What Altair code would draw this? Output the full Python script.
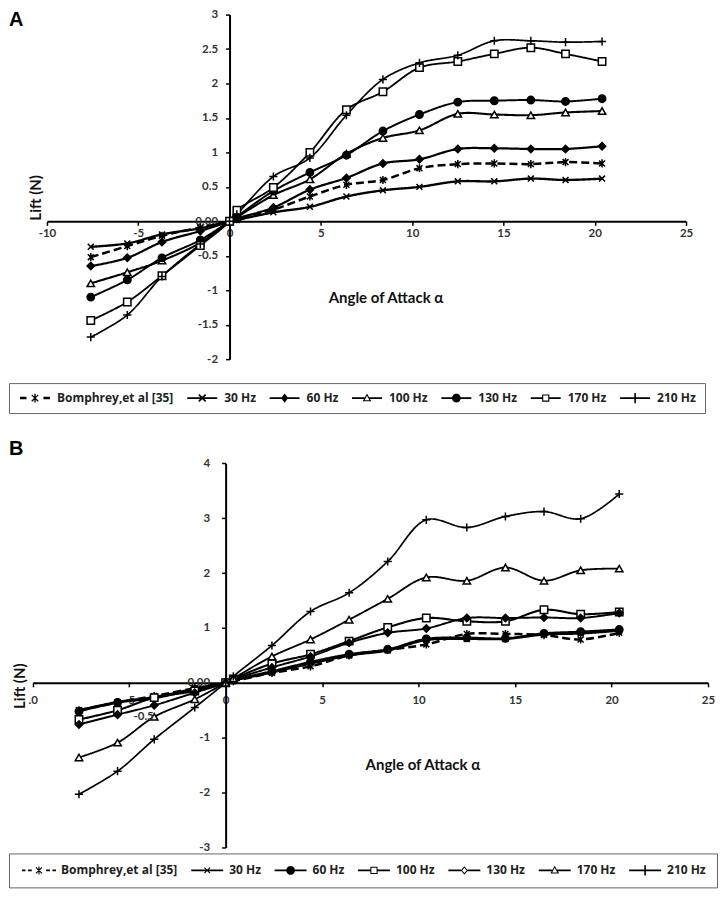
import math
import altair as alt
import pandas as pd

# ---------------- data ----------------
angles = [-7.6, -5.6, -3.7, -1.6, 0, 0.4, 2.4, 4.4, 6.4, 8.4, 10.4, 12.5, 14.5, 16.5, 18.4, 20.4]
series = ["Bomphrey,et al [35]", "30 Hz", "60 Hz", "100 Hz", "130 Hz", "170 Hz", "210 Hz"]

a_bomphrey = [-0.52, -0.36, -0.21, -0.09, 0, 0.03, 0.17, 0.36, 0.53, 0.60, 0.77, 0.83, 0.84, 0.83, 0.86, 0.84]
a_30 = [-0.37, -0.32, -0.19, -0.10, 0, 0.02, 0.13, 0.21, 0.36, 0.45, 0.50, 0.58, 0.58, 0.62, 0.60, 0.62]
a_60 = [-0.65, -0.53, -0.30, -0.14, 0, 0.04, 0.20, 0.46, 0.63, 0.84, 0.90, 1.05, 1.06, 1.05, 1.05, 1.09]
a_100 = [-0.90, -0.74, -0.57, -0.31, 0, 0.06, 0.38, 0.61, 0.98, 1.21, 1.32, 1.56, 1.55, 1.54, 1.58, 1.60]
a_130 = [-1.10, -0.85, -0.53, -0.27, 0, 0.07, 0.44, 0.71, 0.96, 1.31, 1.55, 1.73, 1.75, 1.76, 1.74, 1.78]
a_170 = [-1.44, -1.17, -0.79, -0.35, 0, 0.16, 0.49, 1.00, 1.62, 1.88, 2.23, 2.32, 2.43, 2.52, 2.43, 2.32]
a_210 = [-1.68, -1.36, -0.80, -0.33, 0, 0.10, 0.65, 0.92, 1.54, 2.06, 2.30, 2.41, 2.62, 2.62, 2.60, 2.61]

b_bomphrey = [-0.50, -0.36, -0.24, -0.10, 0, 0.03, 0.18, 0.30, 0.50, 0.60, 0.70, 0.89, 0.89, 0.87, 0.79, 0.91]
b_30 = [-0.50, -0.35, -0.26, -0.11, 0, 0.04, 0.19, 0.35, 0.50, 0.59, 0.78, 0.80, 0.80, 0.88, 0.90, 0.95]
b_60 = [-0.52, -0.36, -0.28, -0.12, 0, 0.05, 0.21, 0.38, 0.52, 0.61, 0.80, 0.82, 0.81, 0.90, 0.93, 0.97]
b_100 = [-0.67, -0.50, -0.27, -0.15, 0, 0.07, 0.35, 0.52, 0.76, 1.01, 1.18, 1.12, 1.12, 1.33, 1.25, 1.29]
b_130 = [-0.76, -0.58, -0.41, -0.18, 0, 0.06, 0.28, 0.48, 0.73, 0.91, 0.99, 1.18, 1.18, 1.19, 1.18, 1.27]
b_170 = [-1.36, -1.09, -0.62, -0.30, 0, 0.08, 0.48, 0.79, 1.15, 1.53, 1.92, 1.86, 2.10, 1.86, 2.05, 2.08]
b_210 = [-2.03, -1.61, -1.03, -0.45, 0, 0.12, 0.68, 1.30, 1.64, 2.21, 2.97, 2.83, 3.03, 3.12, 2.99, 3.44]

x_ticks = [-10, -5, 0, 5, 10, 15, 20, 25]
a_y_ticks = [-2, -1.5, -1, -0.5, 0, 0.5, 1, 1.5, 2, 2.5, 3]
b_y_ticks = [-3, -2, -1, 0, 1, 2, 3, 4]
b_stray_label = ["-0.5"]
b_stray_pos = [(-4.25, -0.63)]


def to_long(values):
    rows = []
    for name, vals in zip(series, values):
        for x, y in zip(angles, vals):
            rows.append({"series": name, "angle": x, "lift": y})
    return pd.DataFrame(rows)


df_a = to_long([a_bomphrey, a_30, a_60, a_100, a_130, a_170, a_210])
df_b = to_long([b_bomphrey, b_30, b_60, b_100, b_130, b_170, b_210])

# ---------------- plot markers ----------------
X_PATH = "M-0.8,-0.8L0.8,0.8M-0.8,0.8L0.8,-0.8"
PLUS_PATH = "M-1.1,0L1.1,0M0,-1.1L0,1.1"
AST_PATH = "M-0.8,-0.8L0.8,0.8M-0.8,0.8L0.8,-0.8M0,-1.1L0,1.1"

# ---------------- legend glyphs (filled outlines only) ----------------
LEG_SIZE = 64                      # symbol area -> 8 px nominal
UNIT = math.sqrt(LEG_SIZE) / 2     # px per path unit


def _area(p):
    return sum(p[i][0] * p[(i + 1) % len(p)][1] - p[(i + 1) % len(p)][0] * p[i][1]
               for i in range(len(p))) / 2


def _orient(p, positive):
    return p if (_area(p) > 0) == positive else p[::-1]


class Glyph:
    def __init__(self, shift):
        self.shift = shift
        self.parts = []

    def _add(self, pts, positive=True):
        pts = _orient(pts, positive)
        self.parts.append("M" + "L".join(
            f"{(x + self.shift) / UNIT:.3f},{y / UNIT:.3f}" for x, y in pts) + "Z")
        return self

    def rect(self, x1, x2, h):
        return self._add([(x1, -h), (x2, -h), (x2, h), (x1, h)])

    def seg(self, x1, y1, x2, y2, w):
        dx, dy = x2 - x1, y2 - y1
        n = math.hypot(dx, dy)
        nx, ny = -dy / n * w / 2, dx / n * w / 2
        return self._add([(x1 + nx, y1 + ny), (x2 + nx, y2 + ny),
                          (x2 - nx, y2 - ny), (x1 - nx, y1 - ny)])

    def cross(self, r, w):
        return self.seg(-r, -r, r, r, w).seg(-r, r, r, -r, w)

    def poly(self, pts):
        return self._add(pts)

    def ring(self, pts, w):
        a = abs(_area(pts))
        per = sum(math.dist(pts[i], pts[(i + 1) % len(pts)]) for i in range(len(pts)))
        inr = 2 * a / per
        cx = sum(p[0] for p in pts) / len(pts)
        cy = sum(p[1] for p in pts) / len(pts)
        k = 1 - w / inr
        inner = [(cx + (x - cx) * k, cy + (y - cy) * k) for x, y in pts]
        self._add(pts, True)
        return self._add(inner, False)

    def disc(self, r, n=24):
        return self._add([(r * math.cos(2 * math.pi * i / n), r * math.sin(2 * math.pi * i / n))
                          for i in range(n)])

    def path(self):
        return "".join(self.parts)


TRI = [(0, -4.6), (4.3, 3.2), (-4.3, 3.2)]
SQ = [(-3.6, -3.6), (3.6, -3.6), (3.6, 3.6), (-3.6, 3.6)]
DIA_A = [(0, -4.6), (3.6, 0), (0, 4.6), (-3.6, 0)]
DIA_B = [(0, -4.2), (3.6, 0), (0, 4.2), (-3.6, 0)]
LW = 0.85

SA = 11  # glyph spans -15..15 px around marker
legend_a_paths = [
    Glyph(SA).rect(-15, -8.5, 1.3).rect(8.5, 15, 1.3).cross(3.2, 1.3).seg(0, -4.4, 0, 4.4, 1.3).path(),
    Glyph(SA).rect(-15, 15, LW).cross(3.4, 1.7).path(),
    Glyph(SA).rect(-15, 15, LW).poly(DIA_A).path(),
    Glyph(SA).rect(-15, -2.3, LW).rect(2.3, 15, LW).ring(TRI, 1.1).path(),
    Glyph(SA).rect(-15, 15, LW).disc(4.4).path(),
    Glyph(SA).rect(-15, -3.4, LW).rect(3.4, 15, LW).ring(SQ, 1.1).path(),
    Glyph(SA).rect(-15, 15, LW).seg(0, -5.2, 0, 5.2, 1.6).path(),
]
SB = 13  # glyph spans -17..17 px around marker
legend_b_paths = [
    Glyph(SB).rect(-17, -13.5, LW).rect(-11, -7.2, LW).cross(3.0, 1.1).seg(0, -4, 0, 4, 1.1)
    .rect(7.2, 11, LW).rect(13.5, 17, LW).path(),
    Glyph(SB).rect(-16, 16, LW).cross(2.8, 1.1).path(),
    Glyph(SB).rect(-16, 16, LW).disc(4.4).path(),
    Glyph(SB).rect(-16, -3.4, LW).rect(3.4, 16, LW).ring(SQ, 1.0).path(),
    Glyph(SB).rect(-16, -3.3, LW).rect(3.3, 16, LW).ring(DIA_B, 1.0).path(),
    Glyph(SB).rect(-16, -2.3, LW).rect(2.3, 16, LW).ring(TRI, 1.0).path(),
    Glyph(SB).rect(-16, 16, LW).seg(0, -5.2, 0, 5.2, 1.6).path(),
]

LABEL_FONT = "Lato"
LEGEND_FONT = "Open Sans"


def panel(df, shapes, fills, dash, widths, legend_paths, W, H, xrange, yrange, ydom,
          yticks, x_label_pad, y_label_pad, xtitle_xy, ytitle_xy, legend_xy,
          legend_pad, col_pad, label_offset, letter, letter_xy, x_label_expr,
          extra=None):
    """All positions are pixels inside the panel group (origin = its top-left)."""
    xmin, xmax = -10, 25
    x0 = xrange[0] + (xrange[1] - xrange[0]) * (0 - xmin) / (xmax - xmin)
    y0 = yrange[1] + (yrange[0] - yrange[1]) * (ydom[1] - 0) / (ydom[1] - ydom[0])
    xscale = alt.Scale(domain=[xmin, xmax], range=list(xrange), nice=False, zero=False)
    yscale = alt.Scale(domain=ydom, range=list(yrange), nice=False, zero=False)

    common_axis = dict(grid=False, domainColor="black", domainWidth=2,
                       tickColor="black", tickWidth=1.5, tickSize=4,
                       labelFont=LABEL_FONT, labelFontWeight="bold",
                       labelFontSize=11.5, labelColor="#333",
                       titleFont=LABEL_FONT, titleFontWeight="bold",
                       titleFontSize=15, titleColor="#111",
                       labelOverlap=False, labelFlush=False, labelBound=False)

    xaxis = alt.Axis(values=x_ticks, orient="bottom", offset=y0 - H,
                     labelPadding=x_label_pad, title="Angle of Attack α",
                     titleX=xtitle_xy[0], titleY=xtitle_xy[1] - y0,
                     titleAlign="center", titleBaseline="top", titleAngle=0,
                     labelExpr=x_label_expr, **common_axis)
    yaxis = alt.Axis(values=yticks, orient="left", offset=-x0,
                     labelPadding=y_label_pad, title="Lift (N)",
                     titleX=ytitle_xy[0] - x0, titleY=ytitle_xy[1],
                     titleAngle=-90, titleAlign="center", titleBaseline="middle",
                     labelExpr="datum.value == 0 ? '0.00' : '' + datum.value",
                     **common_axis)

    x_enc = alt.X("angle:Q", scale=xscale, axis=xaxis)
    y_enc = alt.Y("lift:Q", scale=yscale, axis=yaxis)

    base = alt.Chart(df)
    lines = base.mark_line(color="black", interpolate="catmull-rom").encode(
        x=x_enc, y=y_enc,
        detail="series:N",
        strokeDash=alt.StrokeDash("series:N",
                                  scale=alt.Scale(domain=series, range=dash),
                                  legend=None),
        strokeWidth=alt.StrokeWidth("series:N",
                                    scale=alt.Scale(domain=series, range=widths),
                                    legend=None),
    )
    points = base.mark_point(filled=True, stroke="black", strokeWidth=1.5,
                             size=55, opacity=1).encode(
        x=x_enc, y=y_enc,
        shape=alt.Shape("series:N", scale=alt.Scale(domain=series, range=shapes),
                        legend=None),
        fill=alt.Fill("series:N", scale=alt.Scale(domain=series, range=fills),
                      legend=None),
    )
    leg = base.transform_filter("false").mark_point(
        filled=True, fill="black", strokeWidth=0).encode(
        shape=alt.Shape("series:N",
                        scale=alt.Scale(domain=series, range=legend_paths),
                        legend=alt.Legend(
                            orient="none", legendX=legend_xy[0], legendY=legend_xy[1],
                            direction="horizontal", title=None,
                            symbolSize=LEG_SIZE, symbolStrokeWidth=0,
                            symbolFillColor="black", symbolStrokeColor="transparent",
                            symbolOpacity=1,
                            labelFont=LEGEND_FONT, labelFontWeight="bold",
                            labelFontSize=12, labelColor="#222",
                            labelOffset=label_offset, columnPadding=col_pad,
                            padding=legend_pad, strokeColor="#666",
                            labelLimit=300)),
    )
    letter_chart = alt.Chart(pd.DataFrame({"t": [letter]})).mark_text(
        font="Liberation Sans", fontWeight="bold", fontSize=20,
        align="left", baseline="alphabetic", color="black").encode(
        text="t:N", x=alt.value(letter_xy[0]), y=alt.value(letter_xy[1]))

    layers = [lines, points, leg, letter_chart]
    if extra is not None:
        labels, pos = extra
        edf = pd.DataFrame({"angle": [p[0] for p in pos],
                            "lift": [p[1] for p in pos], "t": labels})
        layers.append(alt.Chart(edf).mark_text(
            font=LABEL_FONT, fontWeight="bold", fontSize=11.5, color="#333").encode(
            x=alt.X("angle:Q", scale=xscale), y=alt.Y("lift:Q", scale=yscale),
            text="t:N"))

    return alt.layer(*layers).resolve_scale(shape="independent").properties(
        width=W, height=H)


dash_a = [[8, 4]] + [[1, 0]] * 6
dash_b = [[4, 3]] + [[1, 0]] * 6
width_a = [2.5] + [1.7] * 6
width_b = [1.6] + [1.7] * 6

# panel A group: page (8, 8) .. (708, 415)
panel_a = panel(df_a,
                shapes=[AST_PATH, X_PATH, "diamond", "triangle-up", "circle", "square", PLUS_PATH],
                fills=["black", "black", "black", "white", "black", "white", "black"],
                dash=dash_a, widths=width_a, legend_paths=legend_a_paths,
                W=700, H=407, xrange=(38, 678), yrange=(351, 6), ydom=[-2, 3],
                yticks=a_y_ticks, x_label_pad=2, y_label_pad=8,
                xtitle_xy=(377, 282), ytitle_xy=(27, 189),
                legend_xy=(0, 375), legend_pad=9, col_pad=11.5, label_offset=27,
                letter="A", letter_xy=(0, 17),
                x_label_expr="'' + datum.value")

# panel B group: page (8, 437) .. (708, 891)
panel_b = panel(df_b,
                shapes=[AST_PATH, X_PATH, "circle", "square", "diamond", "triangle-up", PLUS_PATH],
                fills=["black", "black", "black", "white", "white", "white", "black"],
                dash=dash_b, widths=width_b, legend_paths=legend_b_paths,
                W=700, H=454, xrange=(23.7, 700), yrange=(411, 26.3), ydom=[-3, 4],
                yticks=b_y_ticks, x_label_pad=8, y_label_pad=12,
                xtitle_xy=(414, 321), ytitle_xy=(11, 249),
                legend_xy=(0, 417), legend_pad=11, col_pad=10.5, label_offset=29,
                letter="B", letter_xy=(0, 18),
                x_label_expr="datum.value == -10 ? '.0' : '' + datum.value",
                extra=(b_stray_label, b_stray_pos))

chart = alt.vconcat(panel_a, panel_b, spacing=22).properties(
    padding=0, background="white").configure_view(stroke=None)

chart.save("out.html", embed_options={"renderer": "svg", "actions": False})
